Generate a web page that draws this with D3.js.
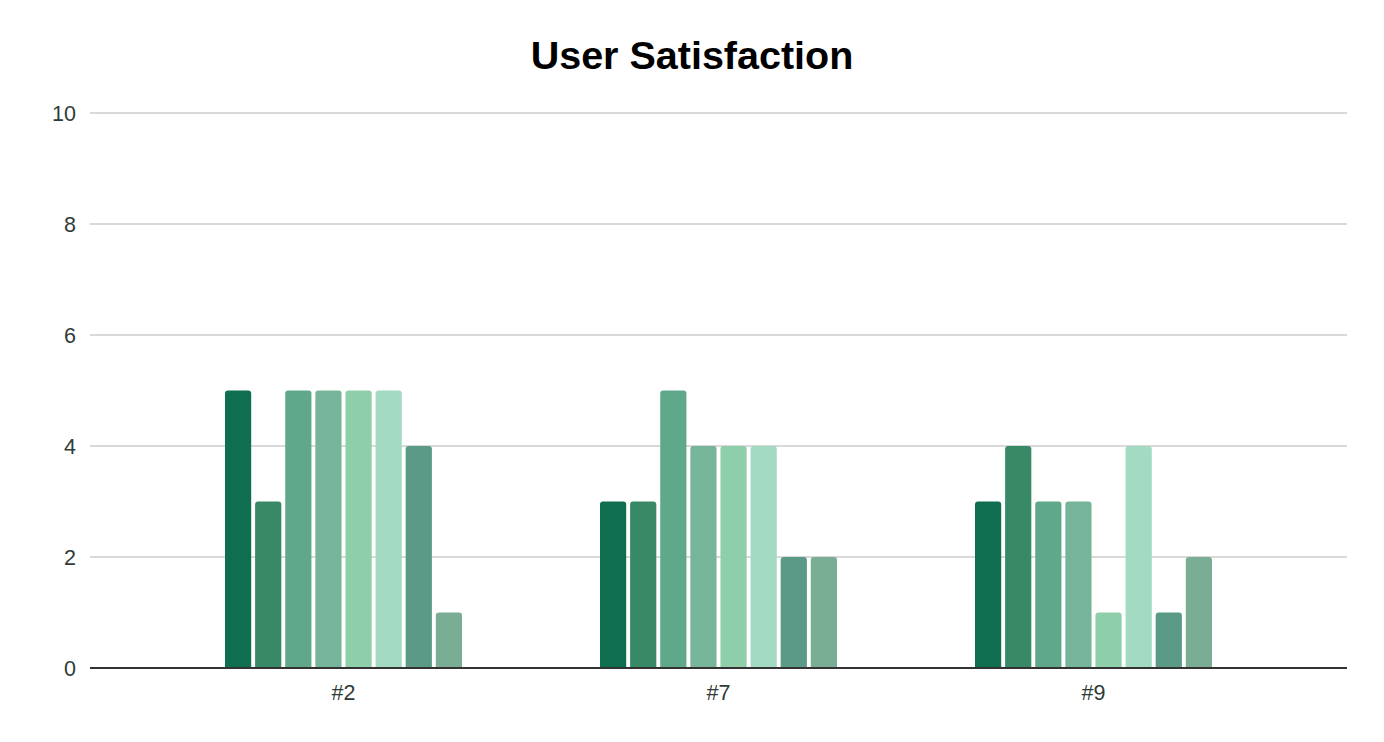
<!DOCTYPE html>
<html>
<head>
<meta charset="utf-8">
<script src="https://cdn.jsdelivr.net/npm/d3@7"></script>
<style>
  body { margin: 0; background: #fff; }
  text { font-family: "Liberation Sans", Arial, sans-serif; }
</style>
</head>
<body>
<script>
// chart values
var categories = ["#2", "#7", "#9"];
var seriesNames = ["S1", "S2", "S3", "S4", "S5", "S6", "S7", "S8"];
var seriesValues = [
    [5, 3, 5, 5, 5, 5, 4, 1],
    [3, 3, 5, 4, 4, 4, 2, 2],
    [3, 4, 3, 3, 1, 4, 1, 2]
];
var yTicks = [0, 2, 4, 6, 8, 10];
var colors = ["#0f6e50", "#378a65", "#5fa88a", "#77b59a", "#8ecfa9", "#a2dac2", "#5a9a86", "#79ae94"];

var _width = 1384, _height = 742;
var plotLeft = 90, plotRight = 1347, plotTop = 113, plotBottom = 668;

var svg = d3.select("body").append("svg")
    .attr("width", _width)
    .attr("height", _height);

svg.append("text")
    .attr("x", 692)
    .attr("y", 69)
    .attr("text-anchor", "middle")
    .attr("font-size", 39.5)
    .attr("font-weight", "bold")
    .attr("fill", "#000")
    .text("User Satisfaction");

var y = d3.scaleLinear().domain([0, 10]).range([plotBottom, plotTop]);

var x = d3.scaleBand()
    .domain(categories)
    .range([plotLeft, plotRight])
    .paddingInner(0)
    .paddingOuter(0.176);

var groupWidth = 237;
var xs = d3.scaleBand()
    .domain(seriesNames)
    .range([-groupWidth / 2, groupWidth / 2])
    .paddingInner(0.13)
    .paddingOuter(0);

// grid
svg.append("g").selectAll("line")
    .data(yTicks.filter(function (d) { return d > 0; }))
    .enter().append("line")
    .attr("x1", plotLeft).attr("x2", plotRight)
    .attr("y1", function (d) { return y(d); })
    .attr("y2", function (d) { return y(d); })
    .attr("stroke", "#cccccc")
    .attr("stroke-width", 1.5);

svg.append("g").selectAll("text")
    .data(yTicks)
    .enter().append("text")
    .attr("x", 76)
    .attr("y", function (d) { return y(d); })
    .attr("dy", "0.35em")
    .attr("text-anchor", "end")
    .attr("font-size", 21.5)
    .attr("fill", "#2f3b37")
    .text(function (d) { return d; });

function barPath(x0, w, yTop, yBot, r) {
    r = Math.min(r, w / 2, (yBot - yTop) / 2);
    return "M" + x0 + "," + yBot +
        "V" + (yTop + r) +
        "Q" + x0 + "," + yTop + " " + (x0 + r) + "," + yTop +
        "H" + (x0 + w - r) +
        "Q" + (x0 + w) + "," + yTop + " " + (x0 + w) + "," + (yTop + r) +
        "V" + yBot + "Z";
}

var groups = svg.append("g").selectAll("g")
    .data(categories)
    .enter().append("g")
    .attr("transform", function (d) { return "translate(" + (x(d) + x.bandwidth() / 2) + ",0)"; });

groups.selectAll("path")
    .data(function (d, i) {
        return seriesValues[i].map(function (v, j) { return {name: seriesNames[j], value: v, idx: j}; });
    })
    .enter().append("path")
    .attr("fill", function (d) { return colors[d.idx]; })
    .attr("d", function (d) { return barPath(xs(d.name), xs.bandwidth(), y(d.value), y(0), 3); });

// baseline
svg.append("line")
    .attr("x1", plotLeft).attr("x2", plotRight)
    .attr("y1", y(0)).attr("y2", y(0))
    .attr("stroke", "#333")
    .attr("stroke-width", 2);

svg.append("g").selectAll("text")
    .data(categories)
    .enter().append("text")
    .attr("x", function (d) { return x(d) + x.bandwidth() / 2; })
    .attr("y", 700)
    .attr("text-anchor", "middle")
    .attr("font-size", 21.5)
    .attr("fill", "#2f3b37")
    .text(function (d) { return d; });
</script>
</body>
</html>
